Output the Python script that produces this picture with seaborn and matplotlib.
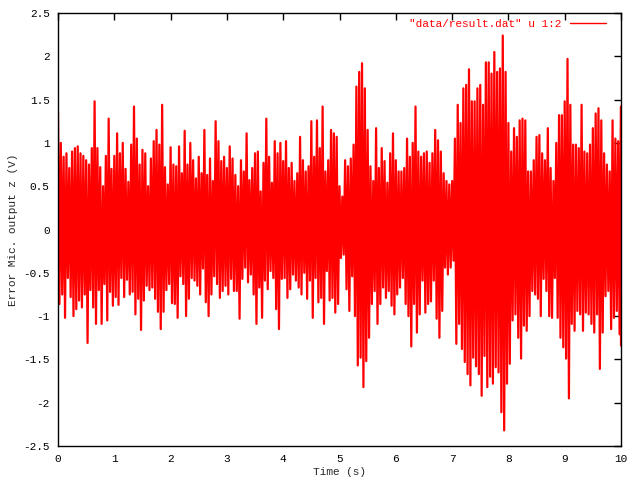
import numpy as np
import pandas as pd
import seaborn as sns
import matplotlib
matplotlib.use("Agg")
import matplotlib.pyplot as plt
from matplotlib.ticker import FuncFormatter, MultipleLocator

# envelope of the signal, one value every 0.05 s
time_s = np.round(np.arange(0, 10.0001, 0.05), 2)

upper_v = [
    1.36, 1.00, 0.84, 0.88, 0.71, 0.90, 0.94, 0.96, 0.88, 0.85,
    0.80, 0.75, 0.94, 1.48, 0.94, 0.72, 0.50, 0.85, 1.28, 0.70,
    0.85, 1.11, 0.88, 1.00, 0.70, 0.55, 0.98, 1.42, 1.05, 0.75,
    0.92, 0.88, 0.50, 0.82, 1.02, 1.15, 0.98, 1.44, 0.72, 0.52,
    0.95, 0.75, 0.73, 0.96, 0.65, 1.14, 0.75, 1.00, 0.80, 0.59,
    0.84, 0.65, 1.15, 0.63, 0.82, 0.56, 1.25, 1.02, 0.79, 0.84,
    0.71, 0.96, 0.82, 0.63, 0.50, 0.80, 0.67, 1.11, 0.57, 0.71,
    0.88, 0.90, 0.44, 0.77, 1.28, 0.84, 0.54, 1.02, 0.88, 1.00,
    0.79, 1.02, 0.71, 0.77, 0.56, 0.65, 1.07, 0.80, 0.67, 0.73,
    1.25, 0.84, 1.26, 0.94, 1.42, 0.67, 0.80, 1.15, 1.11, 1.07,
    0.50, 0.38, 0.80, 0.73, 0.82, 0.98, 1.65, 1.82, 1.92, 1.63,
    1.15, 0.73, 0.56, 1.17, 0.71, 0.94, 0.79, 0.54, 0.88, 1.11,
    0.80, 0.67, 0.67, 0.71, 1.05, 0.84, 1.00, 1.42, 0.90, 0.84,
    0.88, 0.90, 0.77, 0.88, 1.15, 1.03, 0.90, 0.65, 0.56, 0.52,
    0.56, 1.05, 1.44, 1.23, 1.63, 1.67, 1.85, 1.48, 1.48, 1.63,
    1.67, 1.44, 1.93, 1.93, 1.80, 2.05, 1.82, 1.86, 2.24, 1.82,
    1.23, 0.90, 1.17, 1.07, 1.26, 1.28, 1.26, 0.67, 0.67, 0.80,
    1.07, 1.09, 0.88, 0.80, 1.17, 0.71, 0.56, 1.00, 1.32, 1.32,
    1.48, 1.97, 1.44, 0.98, 0.98, 0.94, 1.44, 0.90, 0.88, 0.98,
    1.17, 1.34, 1.40, 1.26, 0.88, 0.75, 0.67, 1.26, 1.05, 1.02,
    1.42,
]

lower_v = [
    -0.86, -0.75, -1.02, -0.56, -0.78, -1.00, -0.92, -0.82, -0.90, -0.75,
    -1.31, -0.70, -0.90, -1.09, -0.70, -1.09, -0.63, -1.05, -0.72, -0.88,
    -0.78, -0.87, -0.56, -0.78, -0.58, -0.75, -0.72, -0.98, -0.80, -1.16,
    -0.82, -0.65, -0.70, -0.67, -0.80, -0.95, -1.15, -0.95, -0.70, -0.63,
    -0.85, -0.86, -1.02, -0.54, -0.63, -1.00, -0.80, -0.56, -0.59, -0.65,
    -0.75, -0.45, -0.84, -1.00, -0.75, -0.54, -0.63, -0.79, -0.71, -0.65,
    -0.75, -0.57, -0.71, -0.71, -1.03, -0.57, -0.44, -0.61, -0.52, -0.75,
    -1.09, -0.67, -1.02, -0.59, -0.69, -0.48, -0.56, -0.92, -1.15, -0.57,
    -0.56, -0.79, -0.69, -0.52, -0.59, -0.67, -0.75, -0.50, -0.80, -0.59,
    -1.02, -0.56, -0.84, -0.79, -1.09, -0.48, -0.82, -0.79, -0.96, -0.86,
    -0.33, -0.29, -0.69, -0.94, -0.54, -1.00, -1.57, -1.48, -1.82, -1.52,
    -1.25, -0.86, -0.71, -1.09, -0.86, -0.67, -0.79, -0.71, -0.88, -0.98,
    -0.75, -0.67, -0.56, -0.86, -1.00, -1.35, -0.86, -1.19, -0.98, -0.59,
    -0.96, -0.86, -0.83, -0.59, -1.03, -1.25, -0.94, -0.44, -0.52, -0.44,
    -0.36, -1.32, -1.09, -1.38, -1.53, -1.67, -1.80, -1.48, -1.58, -1.67,
    -1.92, -1.46, -1.82, -1.70, -1.78, -1.59, -1.65, -2.11, -2.32, -1.78,
    -1.55, -1.05, -0.98, -1.25, -1.49, -1.11, -1.17, -1.00, -0.71, -0.75,
    -0.80, -1.00, -0.57, -0.71, -1.00, -1.02, -0.56, -1.02, -1.25, -1.36,
    -1.49, -1.95, -1.09, -1.17, -0.94, -0.98, -1.17, -0.96, -0.98, -1.09,
    -1.19, -0.98, -1.61, -1.19, -0.77, -0.71, -1.15, -1.02, -0.94, -1.21,
    -1.34,
]

legend_label = '"data/result.dat" u 1:2'

# the signal swings from the top of the envelope to the bottom and back
half_step = 0.025
sig_t = np.ravel(np.column_stack([time_s, np.minimum(time_s + half_step, 10.0)]))
sig_v = np.ravel(np.column_stack([upper_v, lower_v]))
df = pd.DataFrame({"t": sig_t, "v": sig_v})

sns.set_style("white")
plt.rcParams["font.family"] = ["Liberation Mono", "DejaVu Sans Mono"]
plt.rcParams["axes.unicode_minus"] = False

fig = plt.figure(figsize=(6.4, 4.8), dpi=100)
ax = fig.add_axes([58 / 640, 34 / 480, 563 / 640, 433 / 480])

sns.lineplot(data=df, x="t", y="v", ax=ax, color="#ff0000", linewidth=1.6,
             estimator=None, sort=False, label=legend_label)

ax.set_xlim(0, 10)
ax.set_ylim(-2.5, 2.5)
ax.xaxis.set_major_locator(MultipleLocator(1))
ax.yaxis.set_major_locator(MultipleLocator(0.5))
fmt = FuncFormatter(lambda val, pos: "%g" % val)
ax.xaxis.set_major_formatter(fmt)
ax.yaxis.set_major_formatter(fmt)
ax.tick_params(direction="in", length=5, width=1, top=True, right=True,
               labelsize=8, colors="black", pad=6)

for sp in ax.spines.values():
    sp.set_color("black")
    sp.set_linewidth(1.0)
    sp.set_zorder(5)

ax.set_xlabel("Time (s)", fontsize=8, labelpad=2)
ax.set_ylabel("Error Mic. output z (V)", fontsize=8, labelpad=4)

leg = ax.legend(loc="upper right", bbox_to_anchor=(0.983, 1.0), frameon=False,
                markerfirst=False, fontsize=8, handlelength=3.2,
                borderaxespad=0.1)
for txt in leg.get_texts():
    txt.set_color("#ff0000")
for ln in leg.get_lines():
    ln.set_linewidth(1.0)

fig.savefig("out.png", dpi=100)
